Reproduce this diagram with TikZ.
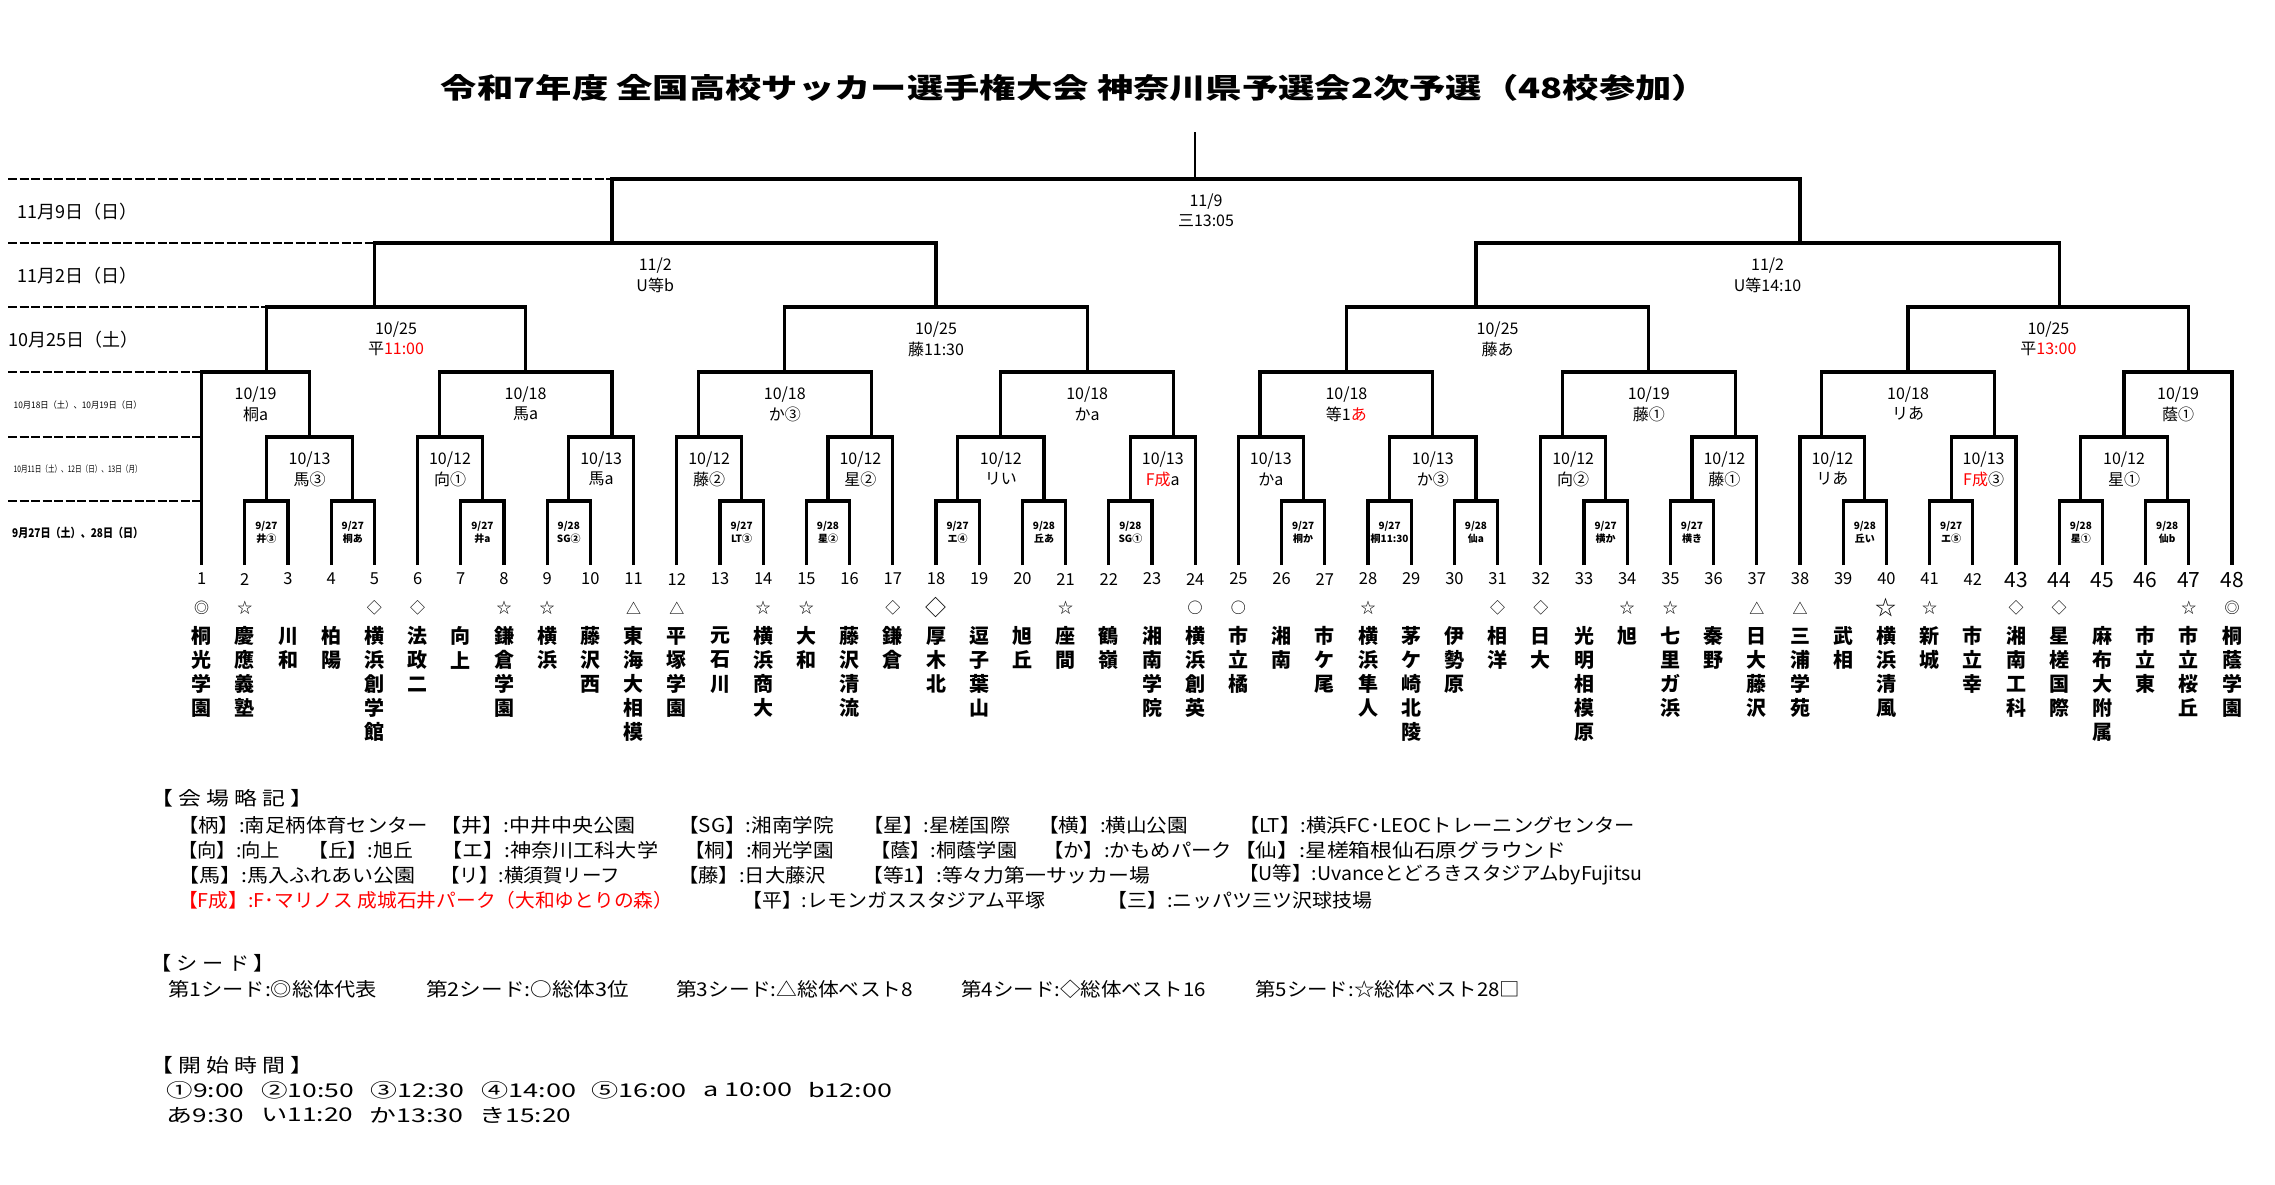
\documentclass[tikz,border=0pt]{standalone}
\usepackage{fontspec}
\usepackage{graphicx}
\setmainfont{Noto Sans CJK JP}
\usetikzlibrary{calc}
\newcommand{\fitw}[2]{\resizebox{#1}{\height}{#2}}
\newcommand{\mt}[3]{\coordinate (#1) at ({tx(#2)},#3);}
% bracket of a match: #1 match, #2/#3 children, #4 date, #5 venue
\newcommand{\bk}[5]{%
  \draw[br] (#2) -- (#2 |- #1) -- (#3 |- #1) -- (#3);
  \coordinate (#1m) at ($(#2 |- #1)!0.5!(#3 |- #1)$);
  \node[lab, yshift=-22.5pt] (#1d) at (#1m) {#4};
  \node[lab, yshift=-42pt] (#1v) at (#1m) {#5};}
\newcommand{\bkr}[5]{%
  \draw[br] (#2) -- (#2 |- #1) -- (#3 |- #1) -- (#3);
  \coordinate (#1m) at ($(#2 |- #1)!0.5!(#3 |- #1)$);
  \node[rlab, yshift=-25.7pt] (#1d) at (#1m) {#4};
  \node[rlab, yshift=-38pt] (#1v) at (#1m) {#5};}
\begin{document}
\begin{tikzpicture}[x=1pt,y=-1pt,
  declare function={tx(\u)=201.6+43.2*(\u-1);},
  br/.style={line width=3.3pt, line join=miter},
  dsh/.style={line width=2.2pt, dash pattern=on 9pt off 2.5pt},
  lab/.style={inner sep=0pt, font=\fontsize{16}{18}\selectfont},
  rlab/.style={inner sep=0pt, font=\bfseries\fontsize{10}{12}\selectfont},
  num/.style={inner sep=0pt, font=\fontsize{16.5}{18}\selectfont},
  bnum/.style={inner sep=0pt, font=\fontsize{21}{23}\selectfont},
  sym/.style={inner sep=0pt, font=\fontsize{15}{17}\selectfont},
  bsym/.style={inner sep=0pt, font=\fontsize{21}{23}\selectfont},
  nm/.style={inner sep=0pt, font=\bfseries\fontsize{20}{22}\selectfont},
  leg/.style={inner sep=0pt, anchor=west, font=\fontsize{19}{21}\selectfont},
  day/.style={inner sep=0pt, anchor=west},
]
\fill[white] (0,0) rectangle (2275,1184);
\useasboundingbox (0,0) rectangle (2275,1184);

% title
\node[inner sep=0pt, font=\bfseries\fontsize{28}{30}\selectfont] (title) at (1074.5,88)
  {\fitw{1267pt}{令和7年度 全国高校サッカー選手権大会 神奈川県予選会2次予選（48校参加）}};

% team feet
\foreach \i in {1,...,48} \coordinate (t\i) at ({tx(\i)},565);

% match points
\mt{a1}{2.5}{501} \mt{a2}{4.5}{501} \mt{a3}{7.5}{501} \mt{a4}{9.5}{501}
\mt{a5}{13.5}{501} \mt{a6}{15.5}{501} \mt{a7}{18.5}{501} \mt{a8}{20.5}{501}
\mt{a9}{22.5}{501} \mt{a10}{26.5}{501} \mt{a11}{28.5}{501} \mt{a12}{30.5}{501}
\mt{a13}{33.5}{501} \mt{a14}{35.5}{501} \mt{a15}{39.5}{501} \mt{a16}{41.5}{501}
\mt{a17}{44.5}{501} \mt{a18}{46.5}{501}
\mt{b1}{3.5}{437} \mt{b2}{6.5}{437} \mt{b3}{10.5}{437} \mt{b4}{12.5}{437}
\mt{b5}{16.5}{437} \mt{b6}{19.5}{437} \mt{b7}{23.5}{437} \mt{b8}{25.5}{437}
\mt{b9}{29.5}{437} \mt{b10}{32.5}{437} \mt{b11}{36.5}{437} \mt{b12}{38.5}{437}
\mt{b13}{42.5}{437} \mt{b14}{45.5}{437}
\mt{c1}{2.5}{372} \mt{c2}{8.5}{372} \mt{c3}{14.5}{372} \mt{c4}{21.5}{372}
\mt{c5}{27.5}{372} \mt{c6}{34.5}{372} \mt{c7}{40.5}{372} \mt{c8}{47}{372}
\mt{d1}{5}{307} \mt{d2}{18}{307} \mt{d3}{30.5}{307} \mt{d4}{44}{307}
\mt{e1}{10.5}{243} \mt{e2}{38}{243}
\mt{f}{24}{179}
\coordinate (top) at ({tx(24)},132);

% round 1
\bkr{a1}{t2}{t3}{9/27}{井③}
\bkr{a2}{t4}{t5}{9/27}{桐あ}
\bkr{a3}{t7}{t8}{9/27}{井a}
\bkr{a4}{t9}{t10}{9/28}{SG②}
\bkr{a5}{t13}{t14}{9/27}{LT③}
\bkr{a6}{t15}{t16}{9/28}{星②}
\bkr{a7}{t18}{t19}{9/27}{エ④}
\bkr{a8}{t20}{t21}{9/28}{丘あ}
\bkr{a9}{t22}{t23}{9/28}{SG①}
\bkr{a10}{t26}{t27}{9/27}{桐か}
\bkr{a11}{t28}{t29}{9/27}{桐11:30}
\bkr{a12}{t30}{t31}{9/28}{仙a}
\bkr{a13}{t33}{t34}{9/27}{横か}
\bkr{a14}{t35}{t36}{9/27}{横き}
\bkr{a15}{t39}{t40}{9/28}{丘い}
\bkr{a16}{t41}{t42}{9/27}{エ⑤}
\bkr{a17}{t44}{t45}{9/28}{星①}
\bkr{a18}{t46}{t47}{9/28}{仙b}
% round 2
\bk{b1}{a1}{a2}{10/13}{馬③}
\bk{b2}{t6}{a3}{10/12}{向①}
\bk{b3}{a4}{t11}{10/13}{馬a}
\bk{b4}{t12}{a5}{10/12}{藤②}
\bk{b5}{a6}{t17}{10/12}{星②}
\bk{b6}{a7}{a8}{10/12}{リい}
\bk{b7}{a9}{t24}{10/13}{\textcolor{red}{F成}a}
\bk{b8}{t25}{a10}{10/13}{かa}
\bk{b9}{a11}{a12}{10/13}{か③}
\bk{b10}{t32}{a13}{10/12}{向②}
\bk{b11}{a14}{t37}{10/12}{藤①}
\bk{b12}{t38}{a15}{10/12}{リあ}
\bk{b13}{a16}{t43}{10/13}{\textcolor{red}{F成}③}
\bk{b14}{a17}{a18}{10/12}{星①}
% round 3
\bk{c1}{t1}{b1}{10/19}{桐a}
\bk{c2}{b2}{b3}{10/18}{馬a}
\bk{c3}{b4}{b5}{10/18}{か③}
\bk{c4}{b6}{b7}{10/18}{かa}
\bk{c5}{b8}{b9}{10/18}{等1\textcolor{red}{あ}}
\bk{c6}{b10}{b11}{10/19}{藤①}
\bk{c7}{b12}{b13}{10/18}{リあ}
\bk{c8}{b14}{t48}{10/19}{蔭①}
% quarter finals
\bk{d1}{c1}{c2}{10/25}{平\textcolor{red}{11:00}}
\bk{d2}{c3}{c4}{10/25}{藤11:30}
\bk{d3}{c5}{c6}{10/25}{藤あ}
\bk{d4}{c7}{c8}{10/25}{平\textcolor{red}{13:00}}
% semi finals
\bk{e1}{d1}{d2}{11/2}{U等b}
\bk{e2}{d3}{d4}{11/2}{U等14:10}
% final
\bk{f}{e1}{e2}{11/9}{三13:05}
\draw[line width=1.6pt] (f) -- (top);

% dashed day rules
\coordinate (z6) at (8,179); \coordinate (z5) at (8,243); \coordinate (z4) at (8,307);
\coordinate (z3) at (8,372); \coordinate (z2) at (8,437); \coordinate (z1) at (8,501);
\draw[dsh] (z6) -- (e1 |- f);
\draw[dsh] (z5) -- (d1 |- e1);
\draw[dsh] (z4) -- (c1 |- d1);
\draw[dsh] (z3) -- (t1 |- c1);
\draw[dsh] (z2) -- (t1 |- b1);
\draw[dsh] (z1) -- (t1 |- a1);

% day labels
\node[day, font=\fontsize{18}{20}\selectfont] (y6) at (17,211.7) {11月9日（日）};
\node[day, font=\fontsize{18}{20}\selectfont] (y5) at (17,276) {11月2日（日）};
\node[day, font=\fontsize{18}{20}\selectfont] (y4) at (8,340) {10月25日（土）};
\node[day, font=\fontsize{9}{11}\selectfont] (y3) at (13.5,405) {\fitw{128pt}{10月18日（土）、10月19日（日）}};
\node[day, font=\fontsize{9}{11}\selectfont] (y2) at (13.5,469) {\fitw{128pt}{10月11日（土）、12日（日）、13日（月）}};
\node[day, font=\bfseries\fontsize{12}{14}\selectfont] (y1) at (12,533) {\fitw{131pt}{9月27日（土）、28日（日）}};

% numbers
\foreach \i in {1,...,42} \node[num] (nu\i) at ({tx(\i)},579) {\i};
\foreach \i in {43,...,48} \node[bnum] (nu\i) at ({tx(\i)},580) {\i};

% seeds
\foreach \i/\s in {1/◎,2/☆,5/◇,6/◇,8/☆,9/☆,11/△,12/△,14/☆,15/☆,17/◇,21/☆,24/○,25/○,28/☆,31/◇,32/◇,34/☆,35/☆,37/△,38/△,41/☆,43/◇,44/◇,47/☆,48/◎}
  \node[sym] (s\i) at ({tx(\i)},608) {\s};
\node[bsym] (s18) at ({tx(18)},608) {◇};
\node[bsym] (s40) at ({tx(40)},608) {☆};

% names
\foreach \i/\n in {1/{桐,光,学,園},2/{慶,應,義,塾},3/{川,和},4/{柏,陽},5/{横,浜,創,学,館},
  6/{法,政,二},7/{向,上},8/{鎌,倉,学,園},9/{横,浜},10/{藤,沢,西},11/{東,海,大,相,模},
  12/{平,塚,学,園},13/{元,石,川},14/{横,浜,商,大},15/{大,和},16/{藤,沢,清,流},17/{鎌,倉},
  18/{厚,木,北},19/{逗,子,葉,山},20/{旭,丘},21/{座,間},22/{鶴,嶺},23/{湘,南,学,院},
  24/{横,浜,創,英},25/{市,立,橘},26/{湘,南},27/{市,ケ,尾},28/{横,浜,隼,人},
  29/{茅,ケ,崎,北,陵},30/{伊,勢,原},31/{相,洋},32/{日,大},33/{光,明,相,模,原},34/{旭},
  35/{七,里,ガ,浜},36/{秦,野},37/{日,大,藤,沢},38/{三,浦,学,苑},39/{武,相},
  40/{横,浜,清,風},41/{新,城},42/{市,立,幸},43/{湘,南,工,科},44/{星,槎,国,際},
  45/{麻,布,大,附,属},46/{市,立,東},47/{市,立,桜,丘},48/{桐,蔭,学,園}}
  {\foreach \c [count=\k] in \n
    \node[nm] (n\i-\k) at ({tx(\i)},{636+24*(\k-1)}) {\c};}

% legend: venues
\node[leg] (h1) at (150,798) {\fitw{163pt}{【 会 場 略 記 】}};
\node[leg] (g11) at (178,825) {\fitw{250pt}{【柄】:南足柄体育センター}};
\node[leg] (g12) at (440,825) {\fitw{195pt}{【井】:中井中央公園}};
\node[leg] (g13) at (678,825) {\fitw{156pt}{【SG】:湘南学院}};
\node[leg] (g14) at (863,825) {\fitw{147pt}{【星】:星槎国際}};
\node[leg] (g15) at (1038,825) {\fitw{150pt}{【横】:横山公園}};
\node[leg] (g16) at (1239,825) {\fitw{396pt}{【LT】:横浜FC･LEOCトレーニングセンター}};
\node[leg] (g21) at (178,850) {\fitw{102pt}{【向】:向上}};
\node[leg] (g22) at (308,850) {\fitw{105pt}{【丘】:旭丘}};
\node[leg] (g23) at (441,850) {\fitw{217pt}{【エ】:神奈川工科大学}};
\node[leg] (g24) at (684,850) {\fitw{150pt}{【桐】:桐光学園}};
\node[leg] (g25) at (870,850) {\fitw{147pt}{【蔭】:桐蔭学園}};
\node[leg] (g26) at (1043,850) {\fitw{189pt}{【か】:かもめパーク}};
\node[leg] (g27) at (1234,850) {\fitw{332pt}{【仙】:星槎箱根仙石原グラウンド}};
\node[leg] (g31) at (178,875) {\fitw{237pt}{【馬】:馬入ふれあい公園}};
\node[leg] (g32) at (440,875) {\fitw{180pt}{【リ】:横須賀リーフ}};
\node[leg] (g33) at (678,875) {\fitw{148pt}{【藤】:日大藤沢}};
\node[leg] (g34) at (862,875) {\fitw{288pt}{【等1】:等々力第一サッカー場}};
\node[leg] (g35) at (1239,875) {\fitw{403pt}{【U等】:UvanceとどろきスタジアムbyFujitsu}};
\node[leg, text=red] (g41) at (178,900) {\fitw{495pt}{【F成】:F･マリノス 成城石井パーク（大和ゆとりの森）}};
\node[leg] (g42) at (742,900) {\fitw{303pt}{【平】:レモンガススタジアム平塚}};
\node[leg] (g43) at (1107,900) {\fitw{265pt}{【三】:ニッパツ三ツ沢球技場}};

% legend: seeds
\node[leg] (h2) at (150,963) {\fitw{125pt}{【 シ ー ド 】}};
\node[leg] (k1) at (168,989) {\fitw{209pt}{第1シード:◎総体代表}};
\node[leg] (k2) at (426,989) {\fitw{203pt}{第2シード:○総体3位}};
\node[leg] (k3) at (676,989) {\fitw{237pt}{第3シード:△総体ベスト8}};
\node[leg] (k4) at (961,989) {\fitw{245pt}{第4シード:◇総体ベスト16}};
\node[leg] (k5) at (1255,989) {\fitw{265pt}{第5シード:☆総体ベスト28□}};

% legend: start times
\node[leg] (h3) at (150,1065) {\fitw{163pt}{【 開 始 時 間 】}};
\node[leg] (r1) at (166.5,1090) {\fitw{78pt}{①9:00}};
\node[leg] (r2) at (261,1090) {\fitw{93pt}{②10:50}};
\node[leg] (r3) at (370.6,1090) {\fitw{94pt}{③12:30}};
\node[leg] (r4) at (481,1090) {\fitw{95pt}{④14:00}};
\node[leg] (r5) at (591.5,1090) {\fitw{95pt}{⑤16:00}};
\node[leg] (r6) at (703,1090) {\fitw{89pt}{a 10:00}};
\node[leg] (r7) at (808,1090) {\fitw{84pt}{b12:00}};
\node[leg] (q1) at (166.5,1115) {\fitw{77pt}{あ9:30}};
\node[leg] (q2) at (261,1115) {\fitw{92pt}{い11:20}};
\node[leg] (q3) at (369.6,1115) {\fitw{94pt}{か13:30}};
\node[leg] (q4) at (479,1115) {\fitw{92pt}{き15:20}};
\end{tikzpicture}
\end{document}
